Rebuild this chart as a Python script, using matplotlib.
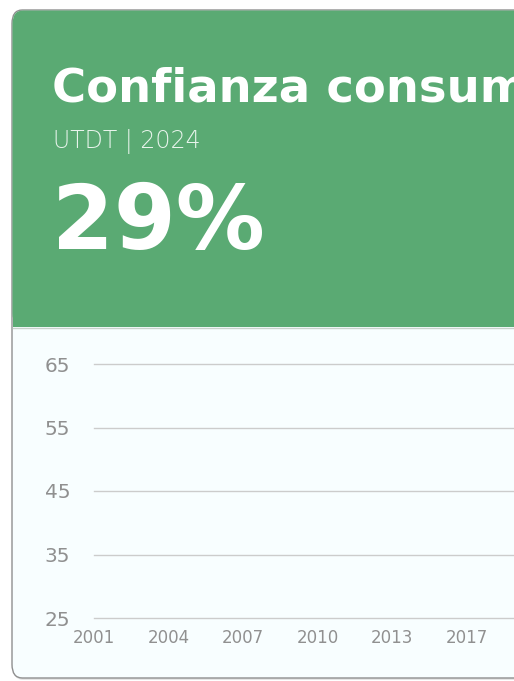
import numpy as np
import matplotlib.pyplot as plt
from matplotlib.patches import FancyBboxPatch, Rectangle

# card content
title = "Confianza consumidor"
subtitle = "UTDT | 2024"
kpi = "29%"

# axis categories / ticks
years = ["2001", "2004", "2007", "2010", "2013", "2017"]
y_ticks = [25, 35, 45, 55, 65]

W, H = 514, 681
green = "#5aaa73"
panel = "#f8feff"

fig = plt.figure(figsize=(W / 100, H / 100), dpi=100)
fig.patch.set_facecolor("white")

def fx(px):
    return px / W

def fy(py):
    return 1 - py / H

# card body + shadow
shadow = FancyBboxPatch((fx(13), fy(680)), fx(560), fy(11) - fy(680),
                        boxstyle="round,pad=0,rounding_size=0.02",
                        transform=fig.transFigure, fc="#e6e6e6", ec="none", zorder=0)
fig.patches.append(shadow)
card = FancyBboxPatch((fx(12), fy(678)), fx(560), fy(10) - fy(678),
                      boxstyle="round,pad=0,rounding_size=0.02",
                      transform=fig.transFigure, fc=panel, ec="#8f8f8f", lw=1.0, zorder=1)
fig.patches.append(card)
header = FancyBboxPatch((fx(12.5), fy(327)), fx(560), fy(10.5) - fy(327),
                        boxstyle="round,pad=0,rounding_size=0.02",
                        transform=fig.transFigure, fc=green, ec="none", zorder=2)
fig.patches.append(header)
fig.patches.append(Rectangle((fx(12.5), fy(327)), fx(560), fy(300) - fy(327),
                             transform=fig.transFigure, fc=green, ec="none", zorder=2))
fig.lines.append(plt.Line2D([fx(12.5), 1], [fy(327.5), fy(327.5)], transform=fig.transFigure,
                            color="#c9d2cc", lw=1, zorder=3))

fig.text(fx(52), fy(89), title, color="white", fontsize=33.5, fontweight="bold",
         family="DejaVu Sans", va="center", ha="left", zorder=4)
fig.text(fx(53), fy(142), subtitle, color="#e8f4ec", fontsize=17, fontweight="light",
         family="DejaVu Sans", va="center", ha="left", zorder=4)
fig.text(fx(52), fy(225), kpi, color="white", fontsize=64, fontweight="bold",
         family="DejaVu Sans", va="center", ha="left", zorder=4)

# chart area
ax = fig.add_axes([fx(94), fy(618), fx(420), fy(364) - fy(618)])
ax.set_zorder(5)
ax.set_facecolor("none")
x = np.arange(len(years))
ax.set_xlim(0, 420 / 74.5)
ax.set_ylim(y_ticks[0], y_ticks[-1])
ax.set_xticks(x)
ax.set_xticklabels(years)
ax.set_yticks(y_ticks)
for yt in y_ticks:
    ax.axhline(yt, color="#cccccc", lw=1, clip_on=False, zorder=0)
for s in ax.spines.values():
    s.set_visible(False)
ax.tick_params(axis="both", length=0, labelcolor="#909090")
ax.tick_params(axis="x", labelsize=12, pad=8)
ax.tick_params(axis="y", labelsize=14.5, pad=17)

fig.savefig("out.png", dpi=100)
